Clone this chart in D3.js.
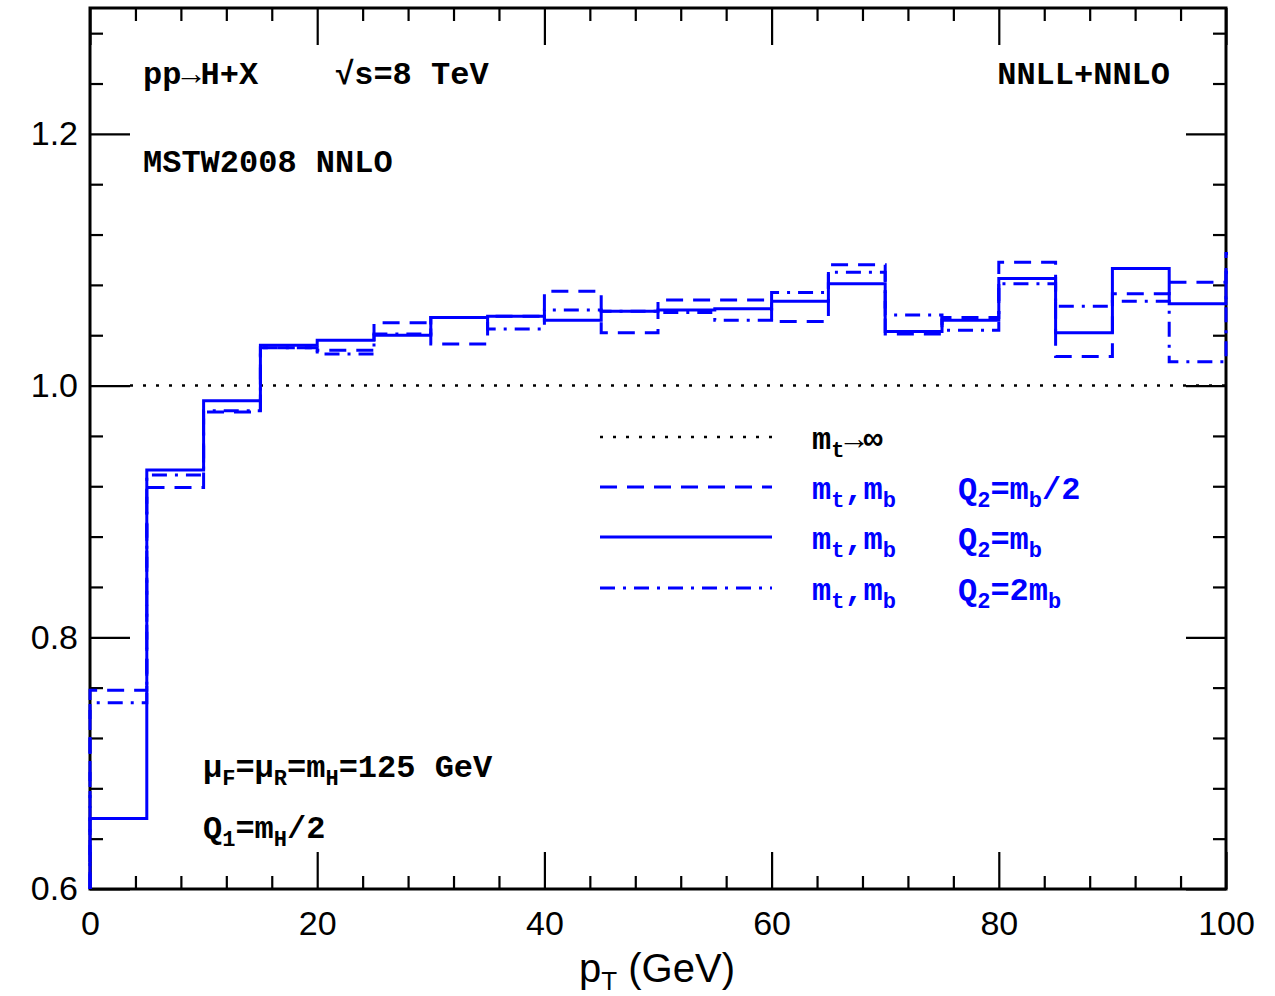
<!DOCTYPE html>
<html>
<head>
<meta charset="utf-8">
<script src="https://cdn.jsdelivr.net/npm/d3@7"></script>
<style>
  body { margin: 0; background: #fff; }
  svg { display: block; }
</style>
</head>
<body>
<svg id="chart" width="1275" height="996"></svg>
<script>
// bins in pT (GeV), lower edges, width 5; last entry is the overflow bin past 100
const binLo = [0, 5, 10, 15, 20, 25, 30, 35, 40, 45, 50, 55, 60, 65, 70, 75, 80, 85, 90, 95, 100];
const binWidth = 5;

// ratio to mt -> infinity
const halfMb = [0.758, 0.919, 0.979, 1.030, 1.028, 1.050, 1.033, 1.055, 1.075, 1.042, 1.068, 1.068, 1.051, 1.096, 1.041, 1.054, 1.098, 1.023, 1.073, 1.082, 1.105];
const oneMb  = [0.656, 0.933, 0.988, 1.032, 1.036, 1.040, 1.054, 1.055, 1.052, 1.059, 1.060, 1.061, 1.067, 1.081, 1.043, 1.052, 1.085, 1.042, 1.093, 1.065, 1.090];
const twoMb  = [0.748, 0.929, 0.980, 1.030, 1.025, 1.041, 1.054, 1.045, 1.060, 1.059, 1.058, 1.052, 1.074, 1.090, 1.056, 1.044, 1.081, 1.063, 1.067, 1.019, 1.070];

const xTicks = [0, 20, 40, 60, 80, 100];
const yTicks = [0.6, 0.8, 1.0, 1.2];

const margin = { left: 90, right: 49, top: 8, bottom: 107 };
const width = 1275 - margin.left - margin.right;
const height = 996 - margin.top - margin.bottom;
const blue = '#0000ff';
const svg = d3.select('#chart');
const g = svg.append('g').attr('transform', 'translate(' + margin.left + ',' + margin.top + ')');

const x = d3.scaleLinear().domain([0, 100]).range([0, width]);
const y = d3.scaleLinear().domain([0.6, 1.3]).range([height, 0]);

const xMinor = d3.range(0, 101, 4).filter(v => v % 20 != 0);
const yMinor = d3.range(0.64, 1.3, 0.04).filter(v => Math.abs(v * 5 - Math.round(v * 5)) > 1e-6);

// ticks on all four sides, pointing inwards
function ticks(axis, vals, size, labels) {
    return axis.tickValues(vals).tickSizeInner(-size).tickSizeOuter(0)
        .tickFormat(labels ? d3.format('.1f') : '');
}
const tickFont = 'Liberation Sans, Arial, sans-serif';

const bottom = g.append('g').attr('transform', 'translate(0,' + height + ')')
    .call(ticks(d3.axisBottom(x), xTicks, 37, true).tickFormat(d3.format('d')).tickPadding(22));
g.append('g').attr('transform', 'translate(0,' + height + ')')
    .call(ticks(d3.axisBottom(x), xMinor, 13, false));
g.append('g').call(ticks(d3.axisTop(x), xTicks, 37, false));
g.append('g').call(ticks(d3.axisTop(x), xMinor, 13, false));

const left = g.append('g').call(ticks(d3.axisLeft(y), yTicks, 40, true).tickPadding(12));
g.append('g').call(ticks(d3.axisLeft(y), yMinor, 13, false));
g.append('g').attr('transform', 'translate(' + width + ',0)')
    .call(ticks(d3.axisRight(y), yTicks, 40, false));
g.append('g').attr('transform', 'translate(' + width + ',0)')
    .call(ticks(d3.axisRight(y), yMinor, 13, false));

g.selectAll('.domain').remove();
g.selectAll('.tick line').attr('stroke', '#000').attr('stroke-width', 2.2);
[bottom, left].forEach(a => a.selectAll('text')
    .attr('font-family', tickFont).attr('font-size', 34).attr('fill', '#000'));

// mt -> infinity reference
g.append('line')
    .attr('x1', x(0) + 40).attr('x2', x(100))
    .attr('y1', y(1.0)).attr('y2', y(1.0))
    .attr('stroke', '#000').attr('stroke-width', 2.5)
    .attr('stroke-dasharray', '3,10');

g.append('rect')
    .attr('width', width).attr('height', height)
    .attr('fill', 'none').attr('stroke', '#000').attr('stroke-width', 3);

g.append('clipPath').attr('id', 'clip')
    .append('rect').attr('x', -2).attr('y', 0).attr('width', width + 4).attr('height', height);

function stepPoints(vals) {
    const pts = [[0, 0.6]];
    vals.forEach((v, i) => {
        pts.push([binLo[i], v]);
        pts.push([binLo[i] + binWidth, v]);
    });
    return pts;
}
const line = d3.line().x(d => x(d[0])).y(d => y(d[1]));

const series = [
    { vals: twoMb, dash: '15,8,3,8', label: 'Q2=2mb' },
    { vals: halfMb, dash: '17,10', label: 'Q2=mb/2' },
    { vals: oneMb, dash: null, label: 'Q2=mb' }
];
series.forEach(s => {
    g.append('path')
        .attr('clip-path', 'url(#clip)')
        .attr('d', line(stepPoints(s.vals)))
        .attr('fill', 'none')
        .attr('stroke', blue)
        .attr('stroke-width', 3)
        .attr('stroke-dasharray', s.dash);
});

// text with subscripts: parts are [string, isSub]
const textFont = 'Liberation Mono, Courier New, monospace';
function label(px, py, parts, color, anchor) {
    const t = svg.append('text')
        .attr('x', px).attr('y', py)
        .attr('font-family', textFont).attr('font-weight', 'bold')
        .attr('font-size', 32).attr('fill', color || '#000')
        .attr('text-anchor', anchor || 'start');
    let down = false;
    parts.forEach(p => {
        const sub = p[1];
        const ts = t.append('tspan').text(p[0]);
        if (sub && !down) { ts.attr('dy', 8).attr('font-size', 22); down = true; }
        else if (sub) { ts.attr('font-size', 22); }
        else if (down) { ts.attr('dy', -8); down = false; }
    });
    return t;
}

label(143, 84, [['pp\u2192H+X', false]]);
label(335, 84, [['\u221As=8 TeV', false]]);
label(1170, 84, [['NNLL+NNLO', false]], '#000', 'end');
label(143, 172, [['MSTW2008 NNLO', false]]);
label(203, 777, [['\u03BC', false], ['F', true], ['=\u03BC', false], ['R', true], ['=m', false], ['H', true], ['=125 GeV', false]]);
label(203, 838, [['Q', false], ['1', true], ['=m', false], ['H', true], ['/2', false]]);

// legend
const legend = [
    { dash: '3,10', color: '#000', y: 437, text: [['m', false], ['t', true], ['\u2192\u221E', false]], q: null },
    { dash: '17,10', color: blue, y: 487, text: [['m', false], ['t', true], [',m', false], ['b', true]],
      q: [['Q', false], ['2', true], ['=m', false], ['b', true], ['/2', false]] },
    { dash: null, color: blue, y: 537, text: [['m', false], ['t', true], [',m', false], ['b', true]],
      q: [['Q', false], ['2', true], ['=m', false], ['b', true]] },
    { dash: '15,8,3,8', color: blue, y: 588, text: [['m', false], ['t', true], [',m', false], ['b', true]],
      q: [['Q', false], ['2', true], ['=2m', false], ['b', true]] }
];
legend.forEach(l => {
    svg.append('line')
        .attr('x1', 600).attr('x2', 772).attr('y1', l.y).attr('y2', l.y)
        .attr('stroke', l.color).attr('stroke-width', l.color == blue ? 3 : 2.5)
        .attr('stroke-dasharray', l.dash);
    label(812, l.y + 12, l.text, l.color);
    if (l.q) label(958, l.y + 12, l.q, l.color);
});

// x axis title
const xt = svg.append('text')
    .attr('x', 657).attr('y', 982)
    .attr('text-anchor', 'middle')
    .attr('font-family', tickFont).attr('font-size', 40);
xt.append('tspan').text('p');
xt.append('tspan').text('T').attr('font-size', 26).attr('dy', 8);
xt.append('tspan').text(' (GeV)').attr('dy', -8);
</script>
</body>
</html>
